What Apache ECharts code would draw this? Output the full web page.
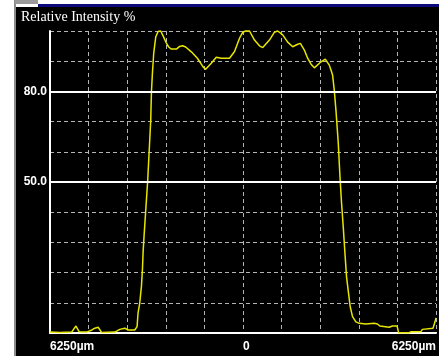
<!DOCTYPE html>
<html>
<head>
<meta charset="utf-8">
<script src="https://cdn.jsdelivr.net/npm/echarts@6/dist/echarts.min.js"></script>
<style>
  html, body { margin: 0; padding: 0; background: #ffffff; }
  #chart { width: 439px; height: 356px; }
</style>
</head>
<body>
<div id="chart"></div>
<script>
// Beam profile: position across the beam (µm) and relative intensity (%)
const positionUm = [
  -6250, -5927, -5549, -5410, -5304, -5065, -4893, -4797, -4690, -4580,
  -4150, -3989, -3828, -3721, -3505, -3430, -3398, -3343, -3288, -3256,
  -3236, -3204, -3149, -3085, -3020, -2988, -2965, -2933, -2891, -2826,
  -2752, -2697, -2665, -2584, -2481, -2406, -2319, -2158, -2051, -1954,
  -1857, -1673, -1470, -1298, -1211, -1027, -866, -704, -436, -274,
  -113, -6, 81, 210, 372, 533, 640, 856, 1018, 1124,
  1286, 1447, 1609, 1770, 1857, 1987, 2093, 2203, 2310, 2526,
  2665, 2794, 2849, 2901, 2956, 3010, 3085, 3140, 3191, 3246,
  3301, 3353, 3417, 3472, 3547, 3656, 3763, 3979, 4248, 4354,
  4432, 4732, 4839, 4990, 5039, 5378, 5443, 5756, 5808, 6153,
  6218, 6250
];
const intensityPct = [
  0.3, 0.2, 0.3, 2.3, 0.4, 0.3, 1.0, 1.6, 1.9, 0.2,
  0.3, 1.2, 1.6, 1.0, 1.0, 2.1, 6.7, 10.0, 15.6, 21.1,
  26.6, 32.1, 40.7, 50.7, 63.9, 70.5, 79.8, 86.1, 92.7, 98.0,
  99.8, 100, 100, 98.3, 96.0, 94.7, 94.0, 94.0, 94.9, 95.1,
  94.7, 93.1, 90.9, 88.2, 87.3, 89.3, 91.3, 91.0, 91.0, 93.2,
  97.6, 99.6, 100, 100, 97.0, 95.1, 94.5, 97.0, 99.6, 100,
  98.7, 96.3, 94.8, 95.6, 95.9, 93.7, 91.0, 89.0, 87.8, 89.8,
  90.7, 88.7, 87.1, 85.4, 80.4, 73.8, 62.9, 51.8, 43.1, 35.2,
  26.5, 18.6, 13.2, 8.7, 5.4, 3.7, 3.2, 3.0, 3.2, 3.0,
  2.3, 1.9, 2.3, 2.3, 0.1, 0.1, 0.4, 0.4, 1.2, 1.6,
  3.7, 5.0
];
// Labelled levels (solid reference lines) and x tick labels
const referenceLevels = [50, 80];
const xTickLabels = { '-6250': '6250µm', '0': '0', '6250': '6250µm' };
const titleText = 'Relative Intensity %';

const chart = echarts.init(document.getElementById('chart'), null, { renderer: 'canvas' });

const gridDash = { color: '#b4b4b4', width: 1, type: [4, 3] };

chart.setOption({
  backgroundColor: '#ffffff',
  animation: false,
  graphic: [
    { type: 'rect', shape: { x: 16, y: 7, width: 423, height: 349 }, style: { fill: '#000000' }, z: -10 },
    { type: 'rect', shape: { x: 14, y: 0, width: 2, height: 356 }, style: { fill: '#8c8c8c' }, z: -9 },
    { type: 'rect', shape: { x: 15, y: 0, width: 23, height: 4 }, style: { fill: '#9a9a9a' }, z: -9 },
    { type: 'rect', shape: { x: 38, y: 4, width: 401, height: 3 }, style: { fill: '#0a0a7a' }, z: -9 }
  ],
  title: {
    text: titleText,
    left: 21,
    top: 10,
    padding: 0,
    textStyle: {
      color: '#ffffff',
      fontFamily: 'Liberation Serif',
      fontWeight: 'normal',
      fontSize: 14
    }
  },
  grid: { left: 50, right: 2, top: 31, bottom: 23, containLabel: false },
  xAxis: {
    type: 'value',
    min: -6250,
    max: 6250,
    interval: 1250,
    axisLine: { show: true, onZero: false, lineStyle: { color: '#ffffff', width: 2 } },
    axisTick: { show: false },
    splitLine: { show: true, lineStyle: gridDash },
    axisLabel: {
      show: true,
      color: '#ffffff',
      fontFamily: 'Liberation Sans',
      fontWeight: 'bold',
      fontSize: 12,
      margin: 8,
      align: 'left',
      alignMaxLabel: 'right',
      formatter: v => xTickLabels[String(v)] || ''
    }
  },
  yAxis: {
    type: 'value',
    min: 0,
    max: 100,
    interval: 10,
    axisLine: { show: true, onZero: false, lineStyle: { color: '#ffffff', width: 2 } },
    axisTick: { show: false },
    splitLine: { show: true, lineStyle: gridDash },
    axisLabel: {
      show: true,
      color: '#ffffff',
      fontFamily: 'Liberation Sans',
      fontWeight: 'bold',
      fontSize: 12,
      margin: 3,
      padding: [8, 0, 0, 0],
      formatter: v => referenceLevels.includes(v) ? v.toFixed(1) : ''
    }
  },
  series: [{
    type: 'line',
    data: positionUm.map((p, i) => [p, intensityPct[i]]),
    showSymbol: false,
    clip: false,
    lineStyle: { color: '#e6e600', width: 1.5 },
    markLine: {
      silent: true,
      symbol: 'none',
      label: { show: false },
      lineStyle: { color: '#ffffff', width: 2, type: 'solid' },
      data: referenceLevels.map(v => ({ yAxis: v }))
    }
  }]
});
</script>
</body>
</html>
